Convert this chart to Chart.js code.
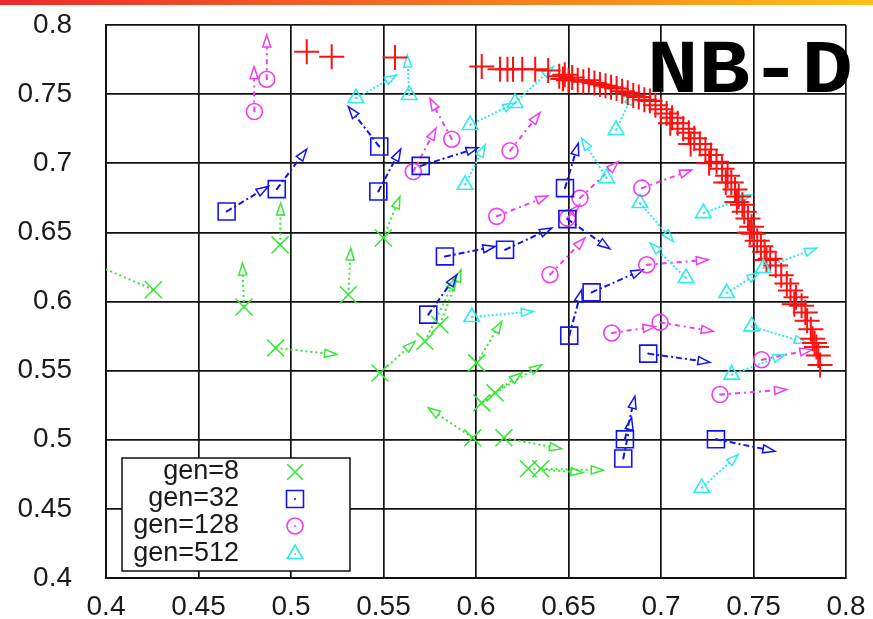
<!DOCTYPE html>
<html><head><meta charset="utf-8">
<script src="https://cdn.jsdelivr.net/npm/chart.js@4.4.1/dist/chart.umd.min.js"></script>
<style>
html,body{margin:0;padding:0;background:#fff;}
#wrap{position:relative;width:873px;height:619px;overflow:hidden;}
#bar{position:absolute;left:0;top:0;width:873px;height:5px;background:linear-gradient(to right,#ec2a2c,#f26a24 45%,#f7951e 75%,#fcc21b);}
canvas{position:absolute;left:0;top:0;}
</style></head><body>
<div id="wrap"><canvas id="c" width="873" height="619"></canvas><div id="bar"></div></div>
<script>
// ---- axes ----
const xTicks = [0.4,0.45,0.5,0.55,0.6,0.65,0.7,0.75,0.8];
const xTickLabels = ['0.4','0.45','0.5','0.55','0.6','0.65','0.7','0.75','0.8'];
const yTicks = [0.4,0.45,0.5,0.55,0.6,0.65,0.7,0.75,0.8];
const yTickLabels = ['0.4','0.45','0.5','0.55','0.6','0.65','0.7','0.75','0.8'];
const titleText = 'NB-D';

// ---- red front ----
const redX = [0.5085,0.5220,0.5562,0.6031,0.613,0.617,0.620,0.625,0.632,0.639,0.645,0.647,0.648,0.650,0.652,0.655,0.658,0.661,0.664,0.667,0.670,0.673,0.676,0.679,0.682,0.685,0.688,0.691,0.694,0.697,0.700,0.703,0.706,0.709,0.712,0.715,0.718,0.721,0.724,0.727,0.730,0.733,0.736,0.738,0.740,0.742,0.744,0.745,0.747,0.749,0.750,0.752,0.754,0.756,0.759,0.762,0.765,0.768,0.770,0.773,0.776,0.778,0.779,0.781,0.782,0.784,0.785,0.786,0.705,0.716,0.726,0.735,0.741,0.748,0.757,0.772,0.783];
const redY = [0.7807,0.7771,0.7765,0.7699,0.768,0.768,0.768,0.768,0.768,0.767,0.763,0.761,0.764,0.760,0.762,0.760,0.759,0.760,0.758,0.757,0.756,0.755,0.754,0.752,0.751,0.749,0.748,0.746,0.745,0.742,0.739,0.736,0.733,0.729,0.725,0.722,0.718,0.714,0.710,0.706,0.701,0.696,0.691,0.686,0.681,0.676,0.670,0.665,0.660,0.654,0.649,0.644,0.640,0.636,0.631,0.626,0.619,0.613,0.608,0.603,0.597,0.592,0.586,0.580,0.573,0.567,0.561,0.554,0.729,0.714,0.700,0.686,0.672,0.650,0.630,0.598,0.570];

// ---- gen=8 ----
const gen8X   = [0.4256,0.4746,0.4941,0.4917,0.5310,0.5499,0.5481,0.5724,0.5805,0.6004,0.6031,0.6103,0.5982,0.6151,0.6283,0.6350];
const gen8Y   = [0.6085,0.5960,0.6410,0.5664,0.6049,0.6459,0.5483,0.5712,0.5832,0.5556,0.5267,0.5339,0.5014,0.5014,0.4790,0.4790];
const gen8ToX = [0.3805,0.4737,0.4944,0.5247,0.5323,0.5589,0.5670,0.5892,0.5919,0.6139,0.6247,0.6355,0.5742,0.6463,0.6578,0.6688];
const gen8ToY = [0.6345,0.6278,0.6712,0.5616,0.6387,0.6759,0.5712,0.6172,0.6230,0.5856,0.5483,0.5543,0.5231,0.4934,0.4763,0.4780];

// ---- gen=32 ----
const gen32X   = [0.4652,0.4923,0.5477,0.5472,0.5701,0.6481,0.5832,0.6157,0.6494,0.5742,0.6625,0.6504,0.6931,0.6805,0.6796,0.7297];
const gen32Y   = [0.6651,0.6813,0.7121,0.6796,0.6981,0.6820,0.6326,0.6374,0.6596,0.5905,0.6066,0.5753,0.5623,0.5003,0.4864,0.5003];
const gen32ToX = [0.4877,0.5085,0.5310,0.5593,0.6012,0.6553,0.6103,0.6409,0.6724,0.5896,0.6903,0.6571,0.7265,0.6859,0.6841,0.7616];
const gen32ToY = [0.6832,0.7102,0.7410,0.7102,0.7113,0.7145,0.6398,0.6531,0.6381,0.6194,0.6230,0.6085,0.5560,0.5314,0.5160,0.4917];

// ---- gen=128 ----
const gen128X   = [0.4869,0.4802,0.5869,0.5661,0.6184,0.6112,0.6562,0.6400,0.6734,0.6995,0.6896,0.6923,0.7544,0.7319,0.6494];
const gen128Y   = [0.7608,0.7374,0.7174,0.6940,0.7090,0.6616,0.6748,0.6194,0.5772,0.5849,0.6820,0.6266,0.5579,0.5327,0.6603];
const gen128ToX = [0.4869,0.4800,0.5751,0.5784,0.6346,0.6389,0.6769,0.6589,0.6968,0.7283,0.7166,0.7256,0.7816,0.7679,0.6560];
const gen128ToY = [0.7928,0.7699,0.7470,0.7254,0.7366,0.6764,0.7012,0.6459,0.5818,0.5784,0.6952,0.6302,0.5652,0.5363,0.6700];

// ---- gen=512 ----
const gen512X   = [0.5351,0.5639,0.5968,0.6211,0.5941,0.6757,0.6706,0.6886,0.7229,0.7135,0.7355,0.7553,0.7490,0.7382,0.7220,0.5977];
const gen512Y   = [0.7470,0.7494,0.7277,0.7436,0.6844,0.7241,0.6892,0.6712,0.6639,0.6170,0.6061,0.6242,0.5820,0.5471,0.4652,0.5888];
const gen512ToX = [0.5571,0.5628,0.6211,0.6418,0.6049,0.6851,0.6571,0.7067,0.7490,0.6941,0.7530,0.7842,0.7787,0.7670,0.7418,0.6310];
const gen512ToY = [0.7639,0.7783,0.7436,0.7699,0.7133,0.7509,0.7181,0.6434,0.6772,0.6423,0.6210,0.6387,0.5700,0.5616,0.4893,0.5928];

const pts = (xs, ys) => xs.map((v, i) => ({x: v, y: ys[i]}));

const series = [
  {label:'gen=8',   x:gen8X,   y:gen8Y,   tx:gen8ToX,   ty:gen8ToY,   color:'#35e835', style:'crossRot', r:12, dash:[2,3],     dot:false},
  {label:'gen=32',  x:gen32X,  y:gen32Y,  tx:gen32ToX,  ty:gen32ToY,  color:'#1414f0', style:'rect',     r:12, dash:[6,3,2,3], dot:true},
  {label:'gen=128', x:gen128X, y:gen128Y, tx:gen128ToX, ty:gen128ToY, color:'#f03cf0', style:'circle',   r:8,  dash:[5,4,2,4], dot:true},
  {label:'gen=512', x:gen512X, y:gen512Y, tx:gen512ToX, ty:gen512ToY, color:'#2cecec', style:'triangle', r:9,  dash:[2,2],     dot:true}
];

const datasets = [];
series.forEach(s => {
  datasets.push({label:s.label, data:pts(s.x, s.y), pointStyle:s.style, pointRadius:s.r,
    borderColor:s.color, backgroundColor:'rgba(0,0,0,0)', borderWidth:1.6, showLine:false});
  if (s.dot) datasets.push({label:s.label+' dot', data:pts(s.x, s.y), pointStyle:'circle', pointRadius:1,
    borderWidth:0, backgroundColor:s.color, showLine:false});
});
datasets.push({label:'front', data:pts(redX, redY), pointStyle:'cross', pointRadius:12.5,
  borderColor:'#ff1010', backgroundColor:'#ff1010', borderWidth:2, showLine:false});

const arrowPlugin = {
  id:'arrows',
  beforeDatasetsDraw(chart){
    const {ctx, chartArea:a, scales} = chart;
    const sx = scales.x, sy = scales.y;
    ctx.save();
    ctx.beginPath(); ctx.rect(a.left, a.top, a.right-a.left, a.bottom-a.top); ctx.clip();
    series.forEach(s => {
      for (let i = 0; i < s.x.length; i++) {
        const x0 = sx.getPixelForValue(s.x[i]), y0 = sy.getPixelForValue(s.y[i]);
        const x1 = sx.getPixelForValue(s.tx[i]), y1 = sy.getPixelForValue(s.ty[i]);
        const ang = Math.atan2(y1-y0, x1-x0);
        const L = 12, W = 4;
        const bx = x1 - L*Math.cos(ang), by = y1 - L*Math.sin(ang);
        ctx.strokeStyle = s.color;
        ctx.lineWidth = 2; ctx.setLineDash(s.dash);
        ctx.beginPath(); ctx.moveTo(x0, y0); ctx.lineTo(bx, by); ctx.stroke();
        ctx.setLineDash([]); ctx.lineWidth = 1.5;
        ctx.beginPath();
        ctx.moveTo(x1, y1);
        ctx.lineTo(bx - W*Math.sin(ang), by + W*Math.cos(ang));
        ctx.lineTo(bx + W*Math.sin(ang), by - W*Math.cos(ang));
        ctx.closePath(); ctx.stroke();
      }
    });
    ctx.restore();
  }
};

const decoPlugin = {
  id:'deco',
  afterDraw(chart){
    const {ctx, chartArea:a} = chart;
    ctx.save();
    // title
    ctx.font = 'bold 76px "Liberation Mono", "DejaVu Sans Mono", monospace';
    ctx.fillStyle = '#000';
    ctx.textBaseline = 'alphabetic';
    const w = ctx.measureText(titleText).width;
    const target = 206;
    ctx.translate(a.right - 199, 92);
    ctx.scale(target / w, 1);
    ctx.fillText(titleText, 0, 0);
    ctx.restore();

    // legend
    ctx.save();
    const bx = a.left + 16, by = a.bottom - 120, bw = 228, bh = 113;
    ctx.fillStyle = '#fff';
    ctx.fillRect(bx, by, bw, bh);
    ctx.strokeStyle = '#111'; ctx.lineWidth = 1.5;
    ctx.strokeRect(bx, by, bw, bh);
    ctx.font = '27px "Liberation Sans", Arial, sans-serif';
    ctx.textAlign = 'right'; ctx.textBaseline = 'middle';
    const rowY = [by + 14, by + 41, by + 68, by + 96];
    series.forEach((s, i) => {
      ctx.fillStyle = '#1a1a1a';
      ctx.fillText(s.label, bx + 117, rowY[i]);
      ctx.strokeStyle = s.color; ctx.fillStyle = 'rgba(0,0,0,0)'; ctx.lineWidth = 1.6;
      Chart.helpers.drawPoint(ctx, {pointStyle:s.style, radius: s.style === 'crossRot' ? 11 : s.r, borderWidth:1.6}, bx + 173, rowY[i]);
      if (s.dot) { ctx.fillStyle = s.color; ctx.beginPath(); ctx.arc(bx + 173, rowY[i], 1, 0, Math.PI*2); ctx.fill(); }
    });
    ctx.restore();
  }
};

const tickFont = {family:'"Liberation Sans", Arial, sans-serif', size:28};
const zeroPad = ax => { ax.paddingLeft = 0; ax.paddingRight = 0; ax.paddingTop = 0; ax.paddingBottom = 0; };

new Chart(document.getElementById('c'), {
  type:'scatter',
  data:{datasets},
  options:{
    responsive:false, animation:false, events:[],
    layout:{padding:{top:25, right:27, left:0, bottom:0}, autoPadding:false},
    plugins:{legend:{display:false}, tooltip:{enabled:false}},
    scales:{
      x:{type:'linear', min:0.4, max:0.8,
        afterBuildTicks: ax => { ax.ticks = xTicks.map(v => ({value:v})); },
        afterFit: ax => { ax.height = 41; zeroPad(ax); },
        ticks:{callback:(v, i) => xTickLabels[i], font:tickFont, color:'#1a1a1a', padding:12, maxRotation:0, autoSkip:false},
        grid:{color:'#111', lineWidth:1.7, drawTicks:false},
        border:{color:'#111', width:2}
      },
      y:{type:'linear', min:0.4, max:0.8,
        afterBuildTicks: ax => { ax.ticks = yTicks.map(v => ({value:v})); },
        afterFit: ax => { ax.width = 106; zeroPad(ax); },
        ticks:{callback:(v, i) => yTickLabels[i], font:tickFont, color:'#1a1a1a', padding:34, autoSkip:false},
        grid:{color:'#111', lineWidth:1.7, drawTicks:false},
        border:{color:'#111', width:2}
      }
    }
  },
  plugins:[arrowPlugin, decoPlugin]
});
</script>
</body></html>
